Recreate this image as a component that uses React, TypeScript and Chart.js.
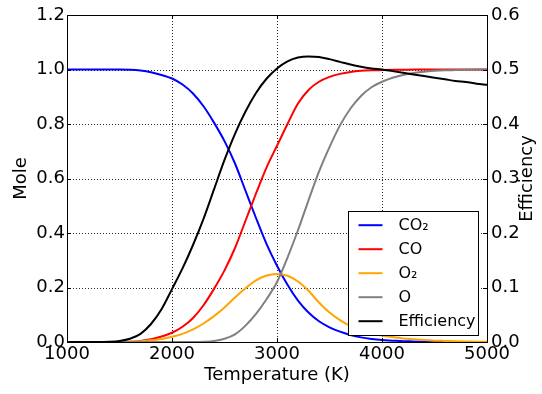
import React, { useEffect, useRef } from "react";
import { Chart, registerables } from "chart.js";

Chart.register(...registerables);

// ---------- data ----------
const temperatures = [
  1000, 1100, 1200, 1300, 1400, 1500, 1600, 1700, 1800, 1900,
  2000, 2100, 2200, 2300, 2400, 2500, 2600, 2700, 2800, 2900,
  3000, 3100, 3200, 3300, 3400, 3500, 3600, 3700, 3800, 3900,
  4000, 4100, 4200, 4300, 4400, 4500, 4600, 4700, 4800, 4900, 5000,
];

const co2Mole = [
  1.0, 1.0, 1.0, 1.0, 1.0, 1.0, 0.999, 0.996, 0.99, 0.98,
  0.967, 0.945, 0.912, 0.865, 0.805, 0.737, 0.655, 0.555, 0.455, 0.36,
  0.28, 0.21, 0.152, 0.108, 0.076, 0.054, 0.038, 0.026, 0.017, 0.011,
  0.007, 0.005, 0.003, 0.002, 0.001, 0.001, 0, 0, 0, 0, 0,
];

const coMole = [
  0, 0, 0, 0, 0, 0, 0.001, 0.004, 0.01, 0.02,
  0.034, 0.056, 0.088, 0.135, 0.195, 0.263, 0.345, 0.445, 0.545, 0.64,
  0.72, 0.8, 0.875, 0.925, 0.955, 0.973, 0.984, 0.991, 0.995, 0.997,
  0.998, 0.999, 0.999, 1.0, 1.0, 1.0, 1.0, 1.0, 1.0, 1.0, 1.0,
];

const o2Mole = [
  0, 0, 0, 0, 0, 0, 0.001, 0.003, 0.006, 0.011,
  0.019, 0.03, 0.046, 0.068, 0.095, 0.127, 0.163, 0.197, 0.226, 0.244,
  0.25, 0.243, 0.222, 0.188, 0.145, 0.108, 0.08, 0.058, 0.043, 0.032,
  0.024, 0.018, 0.013, 0.01, 0.007, 0.005, 0.004, 0.003, 0.002, 0.001, 0.001,
];

const oMole = [
  0, 0, 0, 0, 0, 0, 0, 0, 0, 0,
  0, 0, 0, 0.001, 0.004, 0.012, 0.028, 0.06, 0.103, 0.157,
  0.22, 0.31, 0.41, 0.52, 0.625, 0.715, 0.795, 0.857, 0.903, 0.935,
  0.955, 0.97, 0.98, 0.987, 0.992, 0.995, 0.997, 0.998, 0.999, 1.0, 1.0,
];

const efficiency = [
  0, 0, 0, 0, 0.0005, 0.002, 0.006, 0.015, 0.033, 0.06,
  0.097, 0.135, 0.178, 0.226, 0.28, 0.334, 0.382, 0.423, 0.457, 0.483,
  0.502, 0.515, 0.522, 0.524, 0.523, 0.519, 0.514, 0.509, 0.505, 0.502,
  0.5, 0.497, 0.494, 0.491, 0.488, 0.485, 0.482, 0.479, 0.477, 0.474, 0.472,
];

const seriesLabels = ["CO\u2082", "CO", "O\u2082", "O", "Efficiency"];
const seriesColors = ["#0000ff", "#ff0000", "#ffa500", "#808080", "#000000"];

const xTitle = "Temperature (K)";
const yTitle = "Mole";
const y1Title = "Efficiency";

const FONT = '"DejaVu Sans", "Liberation Sans", sans-serif';
const FS = 18;

// ---------- plugins ----------
const framePlugin = {
  id: "framePlugin",
  beforeDatasetsDraw(chart: any) {
    const { ctx, chartArea, scales } = chart;
    const { left, right, top, bottom } = chartArea;
    ctx.save();
    ctx.strokeStyle = "rgba(0,0,0,0.85)";
    ctx.lineWidth = 1;
    ctx.setLineDash([1, 2]);
    scales.x.ticks.forEach((t: any) => {
      const x = Math.round(scales.x.getPixelForValue(t.value)) + 0.5;
      ctx.beginPath();
      ctx.moveTo(x, top);
      ctx.lineTo(x, bottom);
      ctx.stroke();
    });
    scales.y.ticks.forEach((t: any) => {
      const y = Math.round(scales.y.getPixelForValue(t.value)) + 0.5;
      ctx.beginPath();
      ctx.moveTo(left, y);
      ctx.lineTo(right, y);
      ctx.stroke();
    });
    ctx.restore();
  },
  afterDatasetsDraw(chart: any) {
    const { ctx, chartArea, scales } = chart;
    const { left, right, top, bottom } = chartArea;
    ctx.save();
    ctx.setLineDash([]);
    ctx.strokeStyle = "#000";
    ctx.lineWidth = 1;
    // inward ticks
    const TL = 4;
    scales.x.ticks.forEach((t: any) => {
      const x = Math.round(scales.x.getPixelForValue(t.value)) + 0.5;
      ctx.beginPath();
      ctx.moveTo(x, bottom);
      ctx.lineTo(x, bottom - TL);
      ctx.moveTo(x, top);
      ctx.lineTo(x, top + TL);
      ctx.stroke();
    });
    scales.y.ticks.forEach((t: any) => {
      const y = Math.round(scales.y.getPixelForValue(t.value)) + 0.5;
      ctx.beginPath();
      ctx.moveTo(left, y);
      ctx.lineTo(left + TL, y);
      ctx.stroke();
    });
    scales.y1.ticks.forEach((t: any) => {
      const y = Math.round(scales.y1.getPixelForValue(t.value)) + 0.5;
      ctx.beginPath();
      ctx.moveTo(right, y);
      ctx.lineTo(right - TL, y);
      ctx.stroke();
    });
    // frame
    ctx.strokeRect(Math.round(left) + 0.5, Math.round(top) + 0.5, Math.round(right - left), Math.round(bottom - top));

    // legend
    const boxW = 130;
    const boxH = 124;
    const bx = Math.round(right - 9 - boxW) + 0.5;
    const by = Math.round(bottom - 7 - boxH) + 0.5;
    ctx.fillStyle = "#fff";
    ctx.fillRect(bx, by, boxW, boxH);
    ctx.strokeStyle = "#000";
    ctx.lineWidth = 1;
    ctx.strokeRect(bx, by, boxW, boxH);
    ctx.font = `16px ${FONT}`;
    ctx.textBaseline = "middle";
    ctx.textAlign = "left";
    chart.data.datasets.forEach((ds: any, i: number) => {
      const cy = by + 13.7 + i * 24;
      ctx.strokeStyle = ds.borderColor;
      ctx.lineWidth = 2;
      ctx.beginPath();
      ctx.moveTo(bx + 10, cy);
      ctx.lineTo(bx + 34, cy);
      ctx.stroke();
      ctx.fillStyle = "#000";
      ctx.fillText(ds.label, bx + 50, cy + 1);
    });
    ctx.restore();
  },
  afterDraw(chart: any) {
    const { ctx, chartArea } = chart;
    ctx.save();
    ctx.translate(chart.width - 14.5, (chartArea.top + chartArea.bottom) / 2);
    ctx.rotate(-Math.PI / 2);
    ctx.font = `${FS}px ${FONT}`;
    ctx.fillStyle = "#000";
    ctx.textAlign = "center";
    ctx.textBaseline = "middle";
    ctx.fillText(y1Title, 0, 0);
    ctx.restore();
  },
};

export default function App() {
  const canvasRef = useRef<HTMLCanvasElement | null>(null);

  useEffect(() => {
    if (!canvasRef.current) return;
    const series = [co2Mole, coMole, o2Mole, oMole, efficiency];
    const orders = [4, 3, 2, 1, 0];
    const datasets = series.map((arr, i) => ({
      label: seriesLabels[i],
      data: temperatures.map((t, j) => ({ x: t, y: arr[j] })),
      borderColor: seriesColors[i],
      backgroundColor: seriesColors[i],
      borderWidth: 2,
      pointRadius: 0,
      fill: false,
      cubicInterpolationMode: "monotone" as const,
      yAxisID: i === 4 ? "y1" : "y",
      order: orders[i],
    }));

    const chart = new Chart(canvasRef.current, {
      type: "line",
      data: { datasets },
      options: {
        animation: false,
        responsive: false,
        devicePixelRatio: 1,
        layout: { padding: { top: 15, left: 0, right: 0, bottom: 0 } },
        plugins: {
          legend: { display: false },
          tooltip: { enabled: false },
        },
        scales: {
          x: {
            type: "linear",
            min: 1000,
            max: 5000,
            grid: { display: false, drawTicks: false },
            border: { display: false },
            ticks: {
              stepSize: 1000,
              autoSkip: false,
              maxRotation: 0,
              color: "#000",
              padding: 2,
              font: { family: FONT, size: FS },
              callback: (v: any) => String(v),
            },
            title: {
              display: true,
              text: xTitle,
              color: "#000",
              font: { family: FONT, size: FS },
              padding: { top: 0, bottom: 8 },
            },
            afterFit: (s: any) => {
              s.height = 52;
            },
          },
          y: {
            type: "linear",
            position: "left",
            min: 0,
            max: 1.2,
            grid: { display: false, drawTicks: false },
            border: { display: false },
            ticks: {
              stepSize: 0.2,
              color: "#000",
              padding: 2,
              font: { family: FONT, size: FS },
              callback: (v: any) => Number(v).toFixed(1),
            },
            title: {
              display: true,
              text: yTitle,
              color: "#000",
              font: { family: FONT, size: FS },
              padding: { top: 11, bottom: 0 },
            },
            afterFit: (s: any) => {
              s.width = 67;
            },
          },
          y1: {
            type: "linear",
            position: "right",
            min: 0,
            max: 0.6,
            grid: { display: false, drawTicks: false },
            border: { display: false },
            ticks: {
              stepSize: 0.1,
              color: "#000",
              padding: 4,
              font: { family: FONT, size: FS },
              callback: (v: any) => Number(v).toFixed(1),
            },
            afterFit: (s: any) => {
              s.width = 55;
            },
          },
        },
      },
      plugins: [framePlugin],
    });
    return () => chart.destroy();
  }, []);

  return (
    <div style={{ position: "fixed", left: 0, top: 0, width: 542, height: 394, background: "#fff" }}>
      <canvas ref={canvasRef} width={542} height={394} style={{ display: "block" }} />
    </div>
  );
}
